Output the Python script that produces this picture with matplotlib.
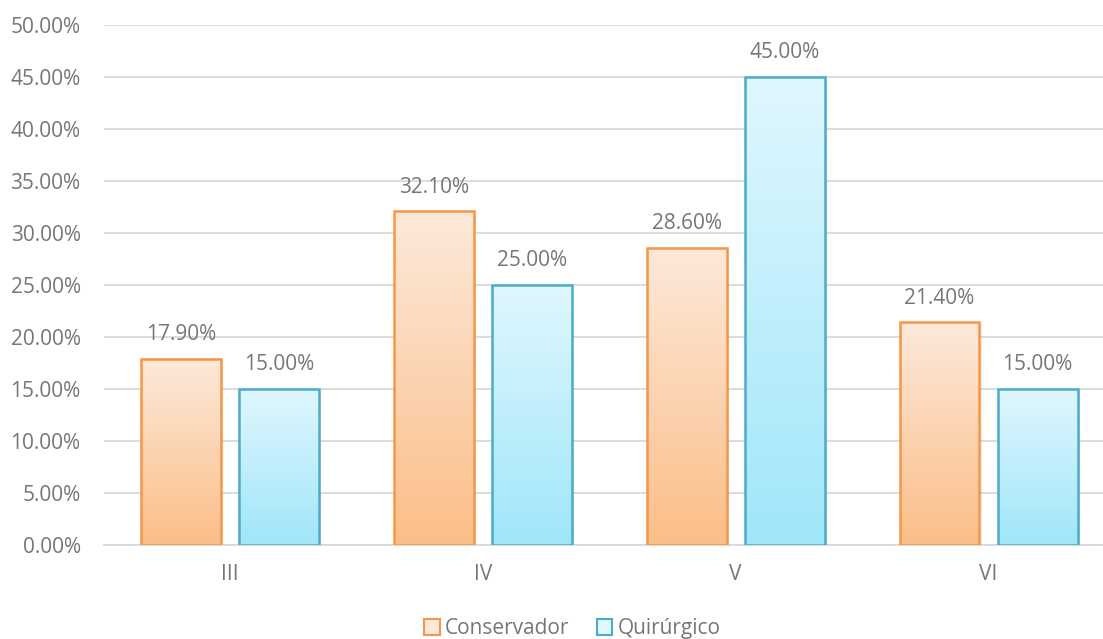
import numpy as np
import matplotlib.pyplot as plt
from matplotlib.patches import Rectangle
from matplotlib.colors import LinearSegmentedColormap
from matplotlib.ticker import FuncFormatter

estadios = ["III", "IV", "V", "VI"]
conservador = [17.9, 32.1, 28.6, 21.4]
quirurgico = [15.0, 25.0, 45.0, 15.0]

plt.rcParams['font.family'] = ['Open Sans', 'DejaVu Sans']
gris = '#767676'
rejilla = '#D9D9D9'

fig = plt.figure(figsize=(11.03, 6.39), dpi=100)
ax = fig.add_axes([0.0939, 0.1471, 0.917, 0.8138])

ancho = 0.316
desp = 0.194

# (top colour, bottom colour, edge)
series = [
    ("Conservador", conservador, -desp, '#FDE9DA', '#FBBE88', '#F79646'),
    ("Quirúrgico", quirurgico, desp, '#E0F7FE', '#A0E6FA', '#4BACC6'),
]

x = np.arange(len(estadios))
for nombre, vals, dx, c_top, c_bot, borde in series:
    cmap = LinearSegmentedColormap.from_list(nombre, [c_bot, c_top])
    grad = np.linspace(0, 1, 256).reshape(-1, 1)
    for xi, v in zip(x, vals):
        x0 = xi + dx - ancho / 2
        # soft shadow on the right side
        ax.add_patch(Rectangle((x0 + 0.008, 0), ancho, v - 0.15, facecolor='#000000',
                               alpha=0.08, edgecolor='none', zorder=2))
        ax.imshow(grad, cmap=cmap, origin='lower', aspect='auto',
                  extent=(x0, x0 + ancho, 0, v), zorder=3)
        ax.add_patch(Rectangle((x0, 0), ancho, v, facecolor='none',
                               edgecolor=borde, linewidth=1.8, zorder=4))
        ax.text(xi + dx, v + 1.3, f"{v:.2f}%", ha='center', va='bottom',
                fontsize=15, color=gris, zorder=5)

ax.set_xlim(-0.5, len(estadios) - 0.5)
ax.set_ylim(0, 50)
ax.set_yticks(np.arange(0, 50.1, 5))
ax.yaxis.set_major_formatter(FuncFormatter(lambda v, p: f"{v:.2f}%"))
ax.set_xticks(x)
ax.set_xticklabels(estadios)
ax.tick_params(axis='both', length=0, labelsize=15, labelcolor=gris)
ax.tick_params(axis='x', pad=14)
ax.tick_params(axis='y', pad=16.5)
ax.grid(axis='y', color=rejilla, linewidth=1.3, zorder=0)
ax.set_axisbelow(True)
for lado in ['top', 'right', 'left']:
    ax.spines[lado].set_visible(False)
ax.spines['bottom'].set_color(rejilla)
ax.spines['bottom'].set_linewidth(1.3)

manejadores = [Rectangle((0, 0), 1, 1, facecolor=s[3], edgecolor=s[5], linewidth=1.5)
               for s in series]
fig.legend(manejadores, [s[0] for s in series], loc='center',
           bbox_to_anchor=(0.519, 0.016), ncol=2, frameon=False,
           fontsize=15, labelcolor=gris, handlelength=0.75, handleheight=0.75,
           handletextpad=0.25, columnspacing=1.3)

fig.savefig("out.png", dpi=100)
